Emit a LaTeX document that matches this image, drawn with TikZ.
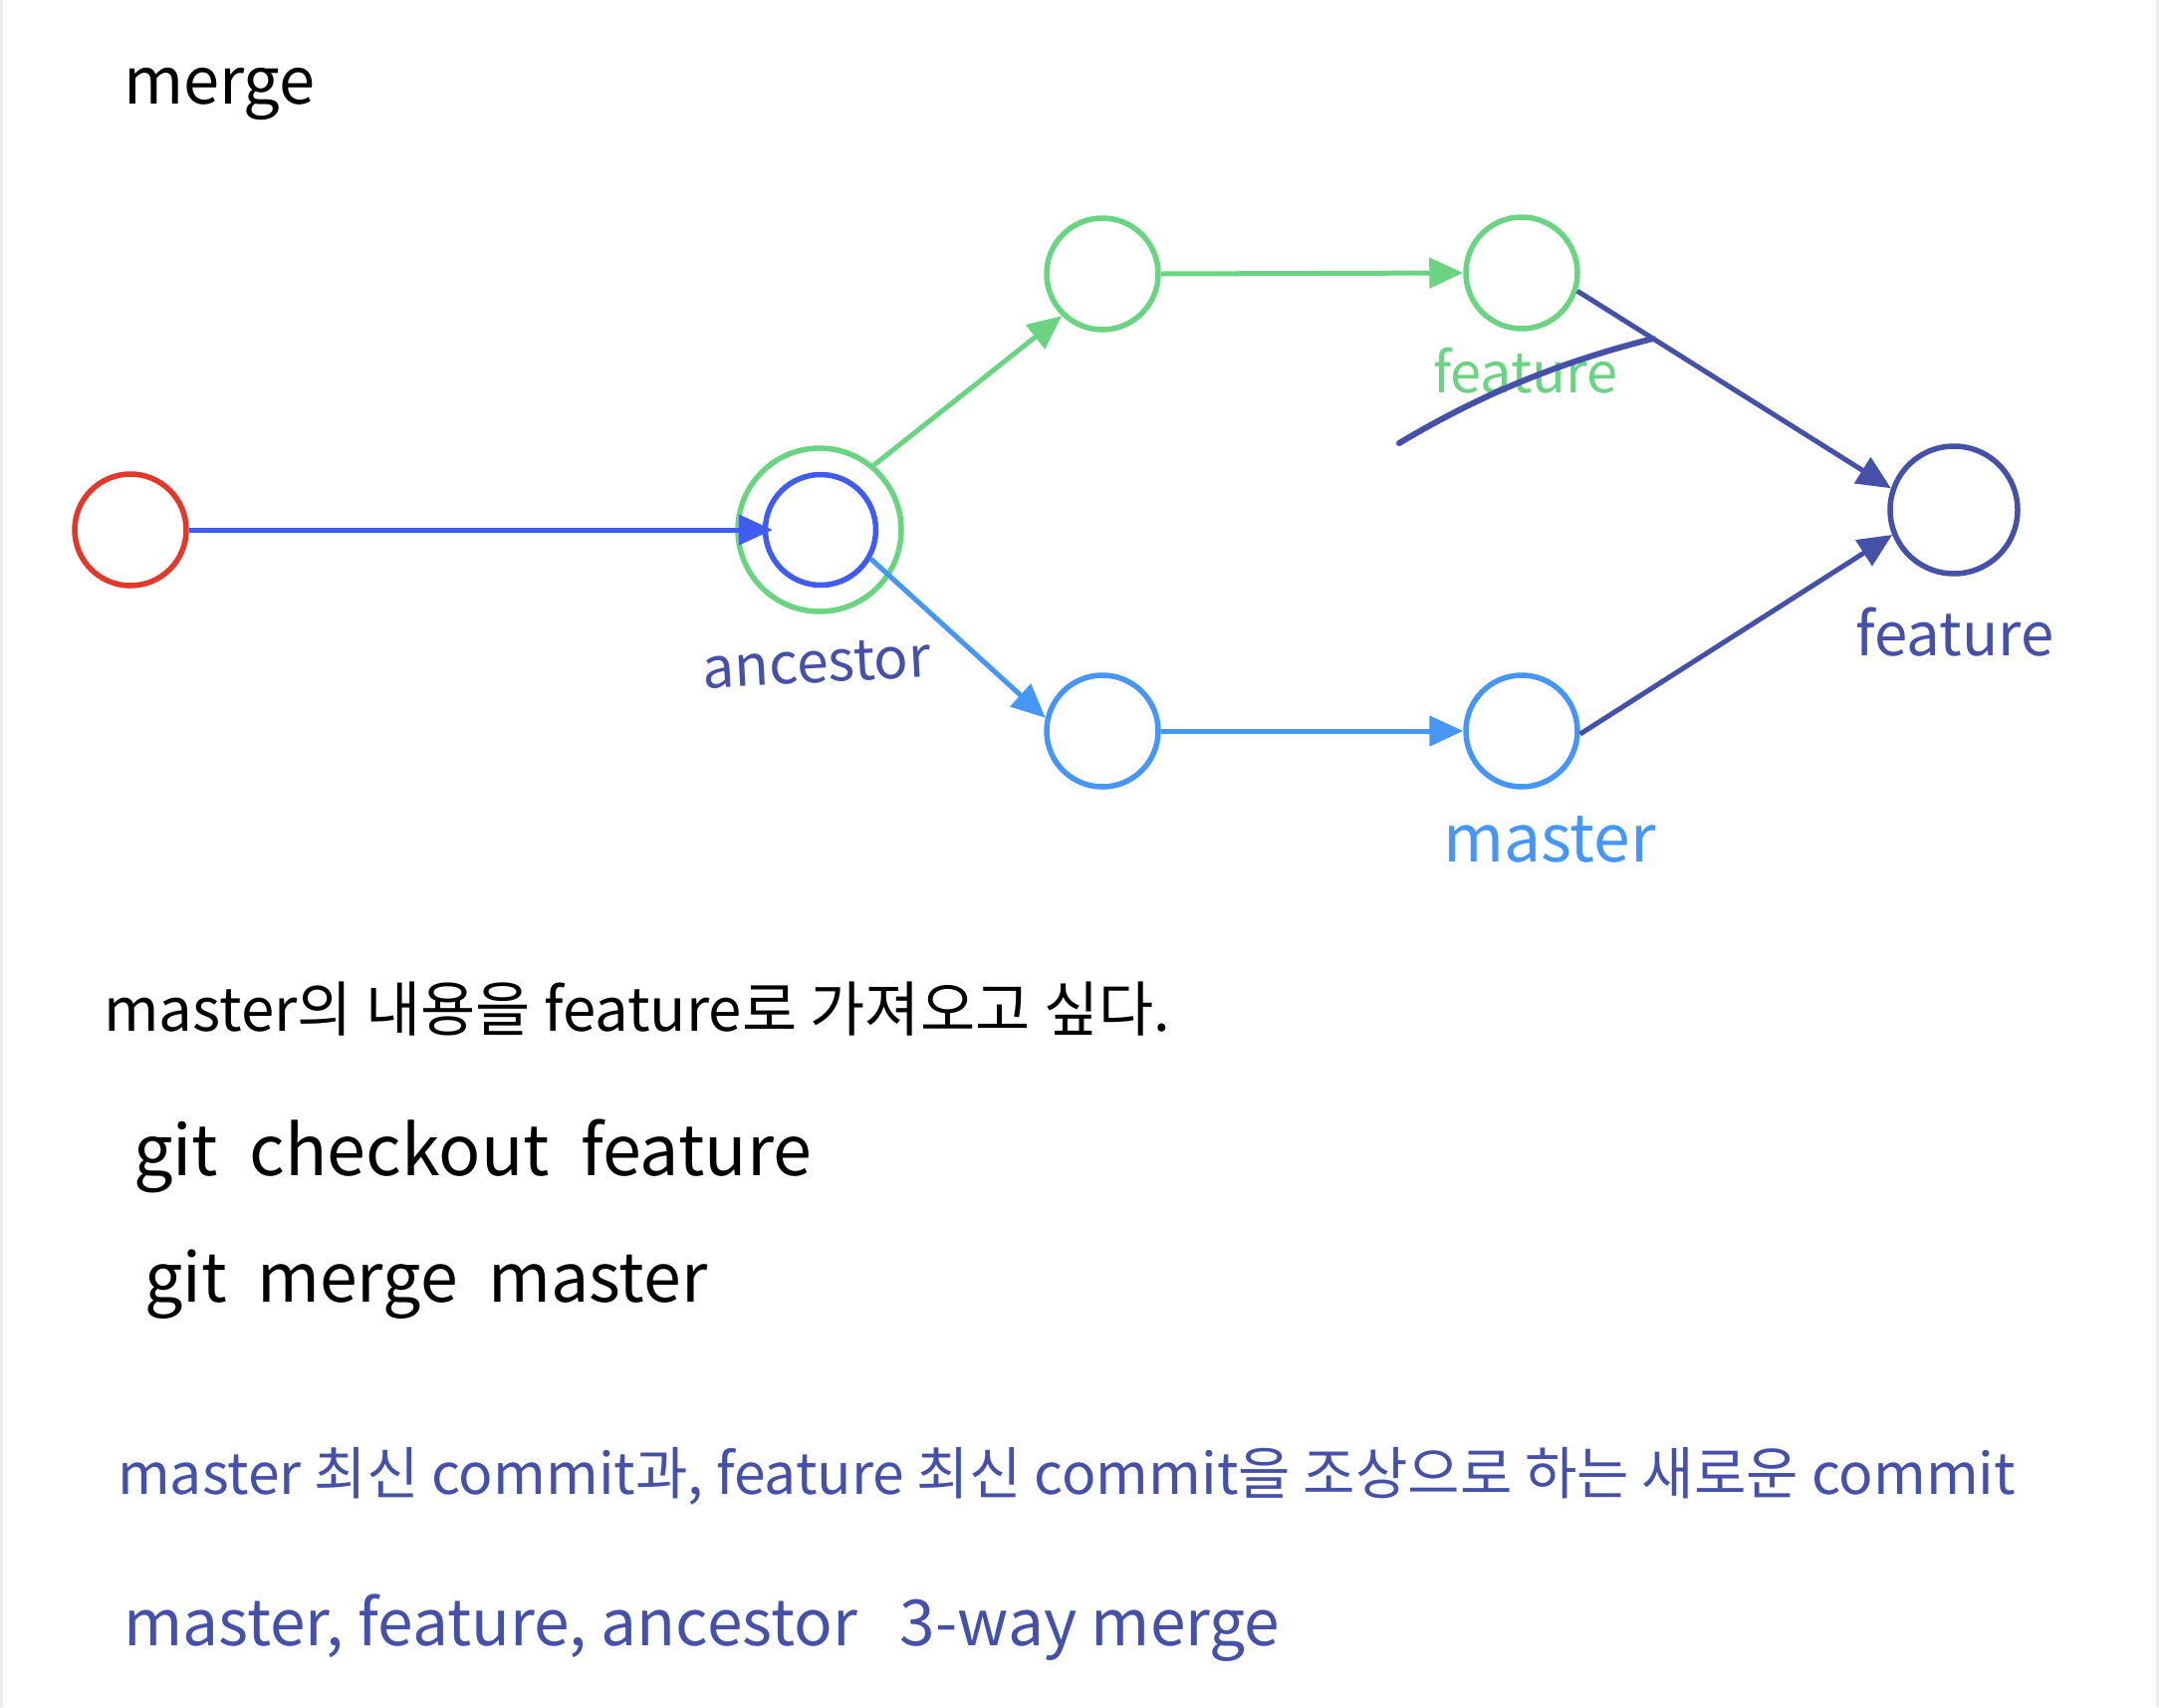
\documentclass[tikz,border=0pt]{standalone}
\usepackage{fontspec}
\setmainfont{Noto Sans CJK KR}
\usetikzlibrary{arrows.meta}
\definecolor{cred}{HTML}{E0382B}
\definecolor{cgreen}{HTML}{6BD482}
\definecolor{cblue}{HTML}{3F5BF0}
\definecolor{clblue}{HTML}{4696F5}
\definecolor{cindigo}{HTML}{4550A8}
\definecolor{cedge}{HTML}{EEEEEE}
\newcommand\fsz[1]{\fontsize{#1}{#1}\selectfont}
\begin{document}
\begin{tikzpicture}[x=1pt,y=-1pt,
  commit/.style={circle, draw, line width=5.5pt, minimum size=112pt, inner sep=0pt},
  arr/.style={line width=5pt, -{Triangle[length=34pt,width=30pt]}},
  lbl/.style={inner sep=0pt},
  txt/.style={inner sep=0pt, anchor=base west}]
\useasboundingbox (0,0) rectangle (2168,1714);
\fill[white] (0,0) rectangle (2168,1714);
\fill[cedge] (0,0) rectangle (3,1714);
\fill[cedge] (2165,0) rectangle (2168,1714);

% title
\node[txt, font=\fsz{65}] (title) at (124,104) {merge};

% commits
\node[commit, cred] (r) at (131,532) {};
\node[commit, cgreen, minimum size=164pt] (aout) at (823,532) {};
\node[commit, cblue, minimum size=111pt] (ain) at (824,532) {};
\node[commit, cgreen] (t1) at (1107,275) {};
\node[commit, cgreen] (t2) at (1528,274) {};
\node[commit, clblue] (b1) at (1107,734) {};
\node[commit, clblue] (b2) at (1528,734) {};
\node[commit, cindigo, minimum size=128pt] (m) at (1962,512) {};

% connectors
\draw[arr, cblue, shorten >=-10pt] (r.east) -- (ain.west);
\draw[arr, cgreen] (aout.50) -- (t1.226);
\draw[arr, clblue] (ain.-30) -- (b1.167);
\draw[arr, cgreen] (t1.east) -- (t2.west);
\draw[arr, clblue] (b1.east) -- (b2.west);
\draw[arr, cindigo] (t2.-18) -- (m.161);
\draw[arr, cindigo] (b2.-3) -- (m.202);

% labels
\node[lbl, font=\fsz{57}, text=cindigo, rotate=3] (lanc) at (820,666) {ancestor};
\node[lbl, font=\fsz{56}, text=cgreen] (lfeat) at (1532,372) {feature};
\node[lbl, font=\fsz{66}, text=clblue] (lmaster) at (1556,843) {master};
\node[lbl, font=\fsz{60}, text=cindigo] (lmerge) at (1963,635) {feature};

% strike-through of old feature label
\draw[cindigo, line width=6pt, line cap=round] (1405,445) .. controls (1480,400) and (1560,365) .. (1660,340);

% notes
\node[txt, font=\fsz{60}] (n1) at (104,1035) {master의 내용을 feature로 가져오고 싶다.};
\node[txt, font=\fsz{70}] (n2) at (134,1180) {git\ \ checkout\ \ feature};
\node[txt, font=\fsz{68}] (n3) at (145,1307) {git\ \ merge\ \ master};
\node[txt, font=\fsz{57}, text=cindigo] (n4) at (118,1500) {master 최신 commit과, feature 최신 commit을 조상으로 하는 새로운 commit};
\node[txt, font=\fsz{64}, text=cindigo] (n5) at (124,1652) {master, feature, ancestor\ \ \ 3-way merge};
\end{tikzpicture}
\end{document}
